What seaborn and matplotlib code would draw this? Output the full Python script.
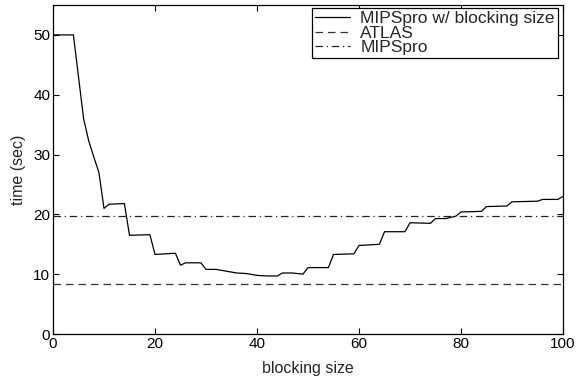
import matplotlib
matplotlib.use("Agg")
import matplotlib.pyplot as plt
import seaborn as sns
import pandas as pd

block_size = [0, 4, 6, 7, 8, 9, 10, 11, 14, 15, 19, 20, 24, 25, 26, 29, 30, 32, 34, 36, 38,
              40, 42, 44, 45, 47, 49, 50, 54, 55, 59, 60, 64, 65, 69, 70, 74, 75, 77, 79,
              80, 84, 85, 89, 90, 95, 96, 99, 100]
time_sec = [50, 50, 36, 32.3, 29.6, 27, 21, 21.7, 21.8, 16.5, 16.6, 13.3, 13.5, 11.5, 11.9,
            11.9, 10.8, 10.8, 10.5, 10.2, 10.1, 9.8, 9.7, 9.7, 10.2, 10.2, 10.0, 11.1, 11.1,
            13.3, 13.4, 14.8, 15.0, 17.1, 17.1, 18.6, 18.5, 19.3, 19.3, 19.7, 20.4, 20.5,
            21.3, 21.4, 22.1, 22.2, 22.5, 22.5, 23.0]
atlas_time = 8.4
mipspro_time = 19.7
labels = ["MIPSpro w/ blocking size", "ATLAS", "MIPSpro"]

sns.set_style("ticks")
plt.rcParams['font.family'] = ['Liberation Sans', 'DejaVu Sans']
plt.rcParams['xtick.direction'] = 'in'
plt.rcParams['ytick.direction'] = 'in'

fig = plt.figure(figsize=(5.8, 3.76), dpi=100)
ax = fig.add_axes([53/580, 1 - 334/376, 510/580, 329/376])

df = pd.DataFrame({"blocking size": block_size, "time": time_sec})
sns.lineplot(data=df, x="blocking size", y="time", ax=ax, color="black",
             linewidth=0.9, label=labels[0])
ax.axhline(atlas_time, color="#333333", linestyle=(0, (6, 4)), linewidth=0.9, label=labels[1])
ax.axhline(mipspro_time, color="#222222", linestyle=(0, (6, 3, 1, 3)), linewidth=0.9, label=labels[2])

ax.set_xlim(0, 100)
ax.set_ylim(0, 55)
ax.set_xticks([0, 20, 40, 60, 80, 100])
ax.set_yticks([0, 10, 20, 30, 40, 50])
ax.tick_params(axis='both', labelsize=11, length=4, width=0.8, top=True, right=True,
               pad=2, colors='black')
for s in ax.spines.values():
    s.set_linewidth(0.9)
    s.set_color('black')
    s.set_visible(True)
ax.set_xlabel("blocking size", fontsize=11.5, labelpad=7)
ax.set_ylabel("time (sec)", fontsize=11.5, labelpad=5)

leg = ax.legend(loc="upper right", bbox_to_anchor=(0.99, 0.991), fontsize=12.5,
                frameon=True, fancybox=False, framealpha=1, edgecolor="black",
                borderpad=0.18, labelspacing=-0.04, handlelength=2.0,
                handletextpad=0.6, borderaxespad=0)
leg.get_frame().set_linewidth(0.9)

fig.savefig("out.png", dpi=100)
